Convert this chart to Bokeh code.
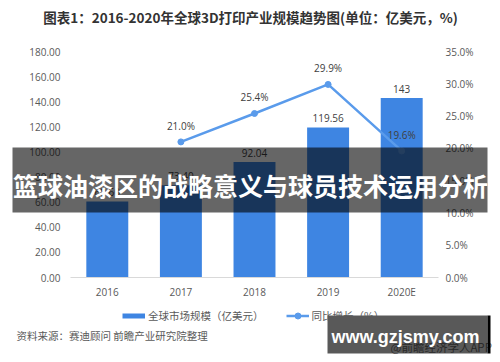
from bokeh.plotting import figure
from bokeh.layouts import column
from bokeh.models import (Range1d, LinearAxis, FixedTicker, Legend, LegendItem,
                          NumeralTickFormatter, PrintfTickFormatter)
from bokeh.core.properties import value
from bokeh.embed import file_html
from bokeh.resources import INLINE

# ---- data ----
years = ["2016", "2017", "2018", "2019", "2020E"]
market = [60.6, 73.4, 92.04, 119.56, 143]
market_labels = ["60.60", "73.40", "92.04", "119.56", "143"]
growth_years = ["2017", "2018", "2019", "2020E"]
growth = [21.0, 25.4, 29.9, 19.6]
growth_labels = ["21.0%", "25.4%", "29.9%", "19.6%"]
left_ticks = [0, 20, 40, 60, 80, 100, 120, 140, 160, 180]
right_ticks = [0, 5, 10, 15, 20, 25, 30, 35]
legend_labels = ["全球市场规模（亿美元）", "同比增长（%）"]

title_text = "图表1：2016-2020年全球3D打印产业规模趋势图(单位：亿美元，%)"
banner_text = "篮球油漆区的战略意义与球员技术运用分析"
source_text = "资料来源：赛迪顾问 前瞻产业研究院整理"
site_text = "www.gzjsmy.com"
app_text = "@前瞻经济学人APP"

CJK = "Noto Sans CJK SC"
LAT = "Open Sans"
BAR = "#3e85e2"
LINE = "#5a9beb"
TICK = "#595959"
NAN = float("nan")

# ---------------- main chart ----------------
p = figure(frame_width=368, frame_height=226, x_range=years, y_range=Range1d(0, 180),
           output_backend="svg", toolbar_location=None, title=None,
           min_border_left=70, min_border_right=62, min_border_top=51,
           min_border_bottom=85, frame_align=False)
p.outline_line_color = None
p.xgrid.visible = False
p.ygrid.visible = False
p.background_fill_color = "white"
p.border_fill_color = "white"
p.extra_y_ranges = {"g": Range1d(0, 35)}

p.yaxis.ticker = FixedTicker(ticks=left_ticks)
p.yaxis.formatter = NumeralTickFormatter(format="0.00")
ra = LinearAxis(y_range_name="g", ticker=FixedTicker(ticks=right_ticks),
                formatter=PrintfTickFormatter(format="%.1f%%"))
p.add_layout(ra, "right")
for ax in (p.yaxis[0], ra):
    ax.axis_line_color = None
    ax.major_tick_line_color = None
    ax.minor_tick_line_color = None
    ax.major_tick_out = 0
    ax.major_tick_in = 0
    ax.major_label_text_font = LAT
    ax.major_label_text_font_size = "10px"
    ax.major_label_text_color = TICK
p.yaxis[0].major_label_standoff = 10
ra.major_label_standoff = 7

p.xaxis.axis_line_color = "#d9d9d9"
p.xaxis.major_tick_line_color = None
p.xaxis.major_tick_out = 0
p.xaxis.major_tick_in = 0
p.xaxis.major_label_standoff = 7
p.xaxis.major_label_text_font = LAT
p.xaxis.major_label_text_font_size = "10px"
p.xaxis.major_label_text_color = TICK

bars = p.vbar(x=years, top=market, width=0.57, fill_color=BAR, line_color=None)
p.text(x=years, y=market, text=market_labels, text_align="center",
       text_baseline="bottom", y_offset=-5, text_font=value(LAT),
       text_font_size="10px", text_color="#404040")

ln = p.line(x=growth_years, y=growth, y_range_name="g", line_width=2.5, line_color=LINE)
dots = p.scatter(x=growth_years, y=growth, y_range_name="g", size=6,
                 fill_color=LINE, line_color=LINE)
p.text(x=growth_years, y=growth, y_range_name="g", text=growth_labels,
       text_align="center", text_baseline="bottom", y_offset=-9,
       text_font=value(LAT), text_font_size="10px", text_color="#404040")

# ---------------- decoration overlay (pixel coordinates) ----------------
q = figure(frame_width=500, frame_height=362, x_range=Range1d(0, 500),
           y_range=Range1d(362, 0), x_axis_type=None, y_axis_type=None,
           output_backend="svg", toolbar_location=None, title=None, min_border=0,
           frame_align=False,
           styles={"position": "absolute", "left": "0px", "top": "0px"})
q.outline_line_color = None
q.grid.visible = False
q.background_fill_alpha = 0
q.border_fill_alpha = 0

# legend swatches (renderers without visible points, used only for the legend)
sw_bar = q.line(x=[NAN], y=[NAN], line_width=5, line_color=BAR, line_cap="butt")
sw_line = q.line(x=[NAN], y=[NAN], line_width=2.5, line_color=LINE)
sw_dot = q.scatter(x=[NAN], y=[NAN], size=6, fill_color=LINE, line_color=LINE)
legend = Legend(items=[LegendItem(label=legend_labels[0], renderers=[sw_bar]),
                       LegendItem(label=legend_labels[1], renderers=[sw_line, sw_dot])],
                orientation="horizontal", location=(122, 39),
                border_line_color=None, background_fill_alpha=0,
                label_text_font=CJK, label_text_font_size="10.5px",
                label_text_color=TICK, glyph_width=23, glyph_height=15,
                spacing=22, label_standoff=3, padding=0, margin=0)
q.add_layout(legend, "center")

q.text(x=[250], y=[16], text=[title_text], text_align="center", text_baseline="middle",
       text_font=value(CJK), text_font_size="13.5px", text_font_style="bold",
       text_color="#333333")
q.text(x=[16], y=[335], text=[source_text], text_align="left", text_baseline="middle",
       text_font=value(CJK), text_font_size="10.5px", text_color=TICK)
q.text(x=[390], y=[346], text=[app_text], text_align="left", text_baseline="middle",
       text_font=value(CJK), text_font_size="11.5px", text_color="#777777")

q.quad(left=[12], right=[487], top=[147], bottom=[212], fill_color="black",
       fill_alpha=0.6, line_color=None)
q.text(x=[250], y=[184], text=[banner_text], text_align="center", text_baseline="middle",
       text_font=value(CJK), text_font_size="25px", text_font_style="bold",
       text_color="white")

q.quad(left=[327], right=[487], top=[315], bottom=[353], fill_color="black",
       fill_alpha=0.65, line_color=None)
q.quad(left=[487], right=[490], top=[315], bottom=[353], fill_color="black",
       fill_alpha=1.0, line_color=None)
q.text(x=[405], y=[336], text=[site_text], text_align="center", text_baseline="middle",
       text_font=value("Liberation Sans"), text_font_size="18px", text_font_style="bold",
       text_color="white")

layout = column(p, q)
open("out.html", "w").write(file_html(layout, INLINE))
